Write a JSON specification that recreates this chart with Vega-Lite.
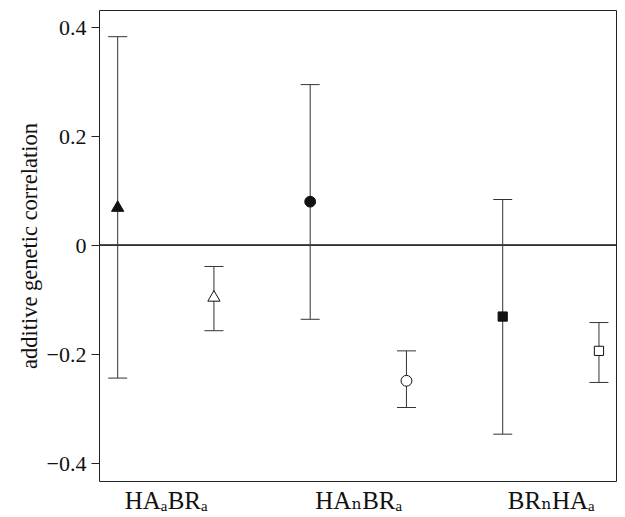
{
  "$schema": "https://vega.github.io/schema/vega-lite/v6.json",
  "width": 517,
  "height": 471,
  "autosize": {"type": "none"},
  "padding": {"left": 99, "top": 10, "right": 9, "bottom": 36},
  "background": "white",
  "config": {
    "view": {"stroke": "#222", "strokeWidth": 1},
    "font": "Liberation Serif"
  },
  "data": {
    "values": [
      {"x": 1, "value": 0.072, "lo": -0.244, "hi": 0.383, "shape": "triangle-up", "fill": "#111111"},
      {"x": 2, "value": -0.093, "lo": -0.157, "hi": -0.039, "shape": "triangle-up", "fill": "#ffffff"},
      {"x": 3, "value": 0.080, "lo": -0.136, "hi": 0.295, "shape": "circle", "fill": "#111111"},
      {"x": 4, "value": -0.249, "lo": -0.298, "hi": -0.194, "shape": "circle", "fill": "#ffffff"},
      {"x": 5, "value": -0.131, "lo": -0.347, "hi": 0.084, "shape": "square", "fill": "#111111"},
      {"x": 6, "value": -0.194, "lo": -0.252, "hi": -0.142, "shape": "square", "fill": "#ffffff"}
    ]
  },
  "layer": [
    {
      "mark": {"type": "point", "filled": false, "stroke": "#111", "strokeWidth": 1, "opacity": 0},
      "encoding": {
        "x": {
          "field": "x", "type": "quantitative",
          "scale": {"domain": [0.806, 6.177], "nice": false, "zero": false},
          "axis": {
            "values": [1.5, 3.5, 5.5],
            "labelExpr": "datum.value == 1.5 ? 'HAₐBRₐ' : datum.value == 3.5 ? 'HAₙBRₐ' : 'BRₙHAₐ'",
            "ticks": false, "domain": false, "grid": false, "title": null,
            "labelFont": "Liberation Serif, DejaVu Serif", "labelFontSize": 25, "labelColor": "#111", "labelPadding": 7
          }
        },
        "y": {
          "field": "value", "type": "quantitative",
          "scale": {"domain": [-0.433, 0.432], "nice": false, "zero": false},
          "axis": {
            "values": [-0.4, -0.2, 0, 0.2, 0.4],
            "labelExpr": "datum.value == 0 ? '0' : format(datum.value, '.1f')",
            "title": "additive genetic correlation",
            "titleFont": "Liberation Serif", "titleFontSize": 22.5, "titleFontWeight": "normal", "titleColor": "#111", "titlePadding": 5,
            "labelFont": "Liberation Serif", "labelFontSize": 22, "labelColor": "#111", "labelPadding": 5,
            "tickSize": 8, "tickColor": "#222", "domain": false, "grid": false
          }
        }
      }
    },
    {
      "mark": {"type": "rule", "color": "#333", "strokeWidth": 1},
      "encoding": {
        "y": {"datum": 0, "type": "quantitative"}
      }
    },
    {
      "mark": {"type": "rule", "color": "#333", "strokeWidth": 1},
      "encoding": {
        "x": {"field": "x", "type": "quantitative"},
        "y": {"field": "lo", "type": "quantitative"},
        "y2": {"field": "hi"}
      }
    },
    {
      "mark": {"type": "tick", "orient": "horizontal", "color": "#333", "size": 19, "thickness": 1, "opacity": 1},
      "encoding": {
        "x": {"field": "x", "type": "quantitative"},
        "y": {"field": "lo", "type": "quantitative"}
      }
    },
    {
      "mark": {"type": "tick", "orient": "horizontal", "color": "#333", "size": 19, "thickness": 1, "opacity": 1},
      "encoding": {
        "x": {"field": "x", "type": "quantitative"},
        "y": {"field": "hi", "type": "quantitative"}
      }
    },
    {
      "mark": {"type": "point", "filled": false, "stroke": "#111", "strokeWidth": 1, "opacity": 1},
      "encoding": {
        "x": {"field": "x", "type": "quantitative"},
        "y": {"field": "value", "type": "quantitative"},
        "shape": {"field": "shape", "type": "nominal", "scale": null},
        "fill": {"field": "fill", "type": "nominal", "scale": null},
        "size": {"field": "shape", "type": "nominal", "legend": null, "scale": {"domain": ["triangle-up", "circle", "square"], "range": [150, 85, 100]}}
      }
    }
  ]
}
